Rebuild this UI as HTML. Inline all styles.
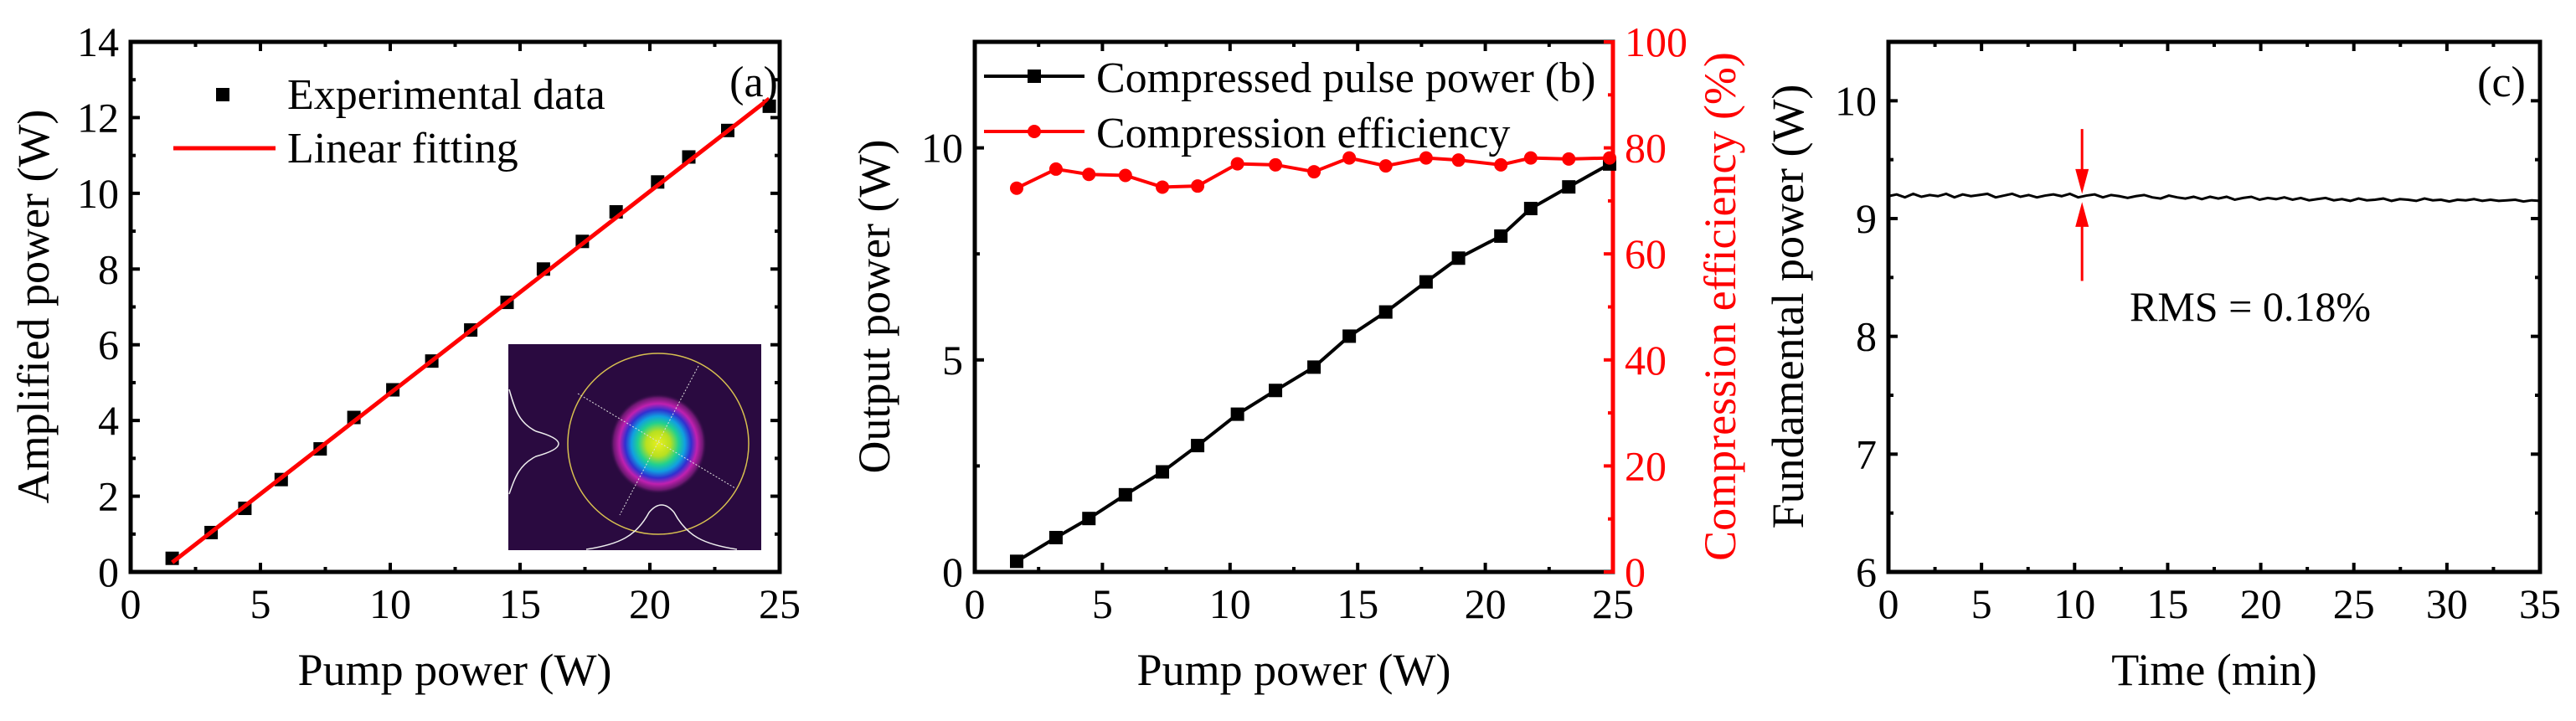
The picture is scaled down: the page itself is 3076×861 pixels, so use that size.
<!DOCTYPE html>
<html><head><meta charset="utf-8"><style>
html,body{margin:0;padding:0;background:#fff;}
svg{display:block;font-family:"Liberation Serif",serif;}
</style></head><body>
<svg id="fig" width="3076" height="861" viewBox="0 0 3076 861" xmlns="http://www.w3.org/2000/svg">
<defs>
<radialGradient id="beam" cx="50%" cy="50%" r="50%">
<stop offset="0" stop-color="#e8f020"/><stop offset="0.25" stop-color="#b8e020"/>
<stop offset="0.42" stop-color="#20d090"/><stop offset="0.55" stop-color="#10a0e0"/>
<stop offset="0.68" stop-color="#3030d0"/><stop offset="0.8" stop-color="#c020b0"/>
<stop offset="0.92" stop-color="#6a1870"/><stop offset="1" stop-color="#2a0a40" stop-opacity="0"/>
</radialGradient>
</defs>
<g id="root"></g>
</svg>
<script>
// Panel (a) data
const aPump = [1.6, 3.1, 4.4, 5.8, 7.3, 8.6, 10.1, 11.6, 13.1, 14.5, 15.9, 17.4, 18.7, 20.3, 21.5, 23.0, 24.6];
const aPower = [0.36, 1.04, 1.68, 2.44, 3.25, 4.08, 4.81, 5.57, 6.39, 7.12, 8.0, 8.73, 9.51, 10.3, 10.96, 11.66, 12.3];
const aFitX = [1.6, 24.6];
const aFitY = [0.25, 12.5];
// Panel (b) data
const bPump = [1.64, 3.18, 4.47, 5.9, 7.35, 8.73, 10.29, 11.78, 13.29, 14.67, 16.1, 17.68, 18.95, 20.61, 21.78, 23.27, 24.87];
const bOutput = [0.25, 0.81, 1.26, 1.82, 2.36, 2.98, 3.72, 4.28, 4.83, 5.56, 6.13, 6.84, 7.40, 7.92, 8.57, 9.08, 9.62];
const bEff = [72.4, 76.0, 75.0, 74.8, 72.6, 72.8, 77.0, 76.8, 75.5, 78.1, 76.6, 78.1, 77.7, 76.8, 78.1, 77.9, 78.1];
// Panel (c) data
const cPower = [9.19,9.205,9.18,9.21,9.185,9.20,9.19,9.21,9.18,9.205,9.19,9.20,9.21,9.18,9.195,9.21,9.185,9.20,9.18,9.195,
 9.205,9.19,9.21,9.18,9.195,9.205,9.18,9.20,9.19,9.175,9.19,9.20,9.18,9.17,9.195,9.18,9.17,9.185,9.165,9.185,
 9.17,9.185,9.16,9.175,9.185,9.16,9.175,9.165,9.18,9.16,9.175,9.155,9.165,9.175,9.155,9.165,9.15,9.17,9.155,9.16,
 9.17,9.15,9.165,9.16,9.15,9.17,9.155,9.16,9.145,9.16,9.155,9.165,9.15,9.16,9.15,9.155,9.16,9.145,9.155,9.15];
const cTimeMax = 35;
const aXTicks = [0,5,10,15,20,25];
const aYTicks = [0,2,4,6,8,10,12,14];
const bYTicks = [0,5,10];
const bY2Ticks = [0,20,40,60,80,100];
const cXTicks = [0,5,10,15,20,25,30,35];
const cYTicks = [6,7,8,9,10];

const NS='http://www.w3.org/2000/svg';
const root=document.getElementById('root');
function mk(tag,attrs,parent,text){const e=document.createElementNS(NS,tag);for(const k in attrs)e.setAttribute(k,attrs[k]);if(text!==undefined)e.textContent=text;(parent||root).appendChild(e);return e;}
function scale(d0,d1,r0,r1){return v=>r0+(v-d0)*(r1-r0)/(d1-d0);}

function axes(g,L,R,T,B,xs,xTicks,xMinor,ys,yTicks,yMinor,rightTicks,topTicks){
  mk('rect',{x:L,y:T,width:R-L,height:B-T,fill:'none',stroke:'#000','stroke-width':5},g);
  xTicks.forEach(v=>{const x=xs(v);
    mk('line',{x1:x,x2:x,y1:B,y2:B-11,stroke:'#000','stroke-width':4},g);
    if(topTicks) mk('line',{x1:x,x2:x,y1:T,y2:T+11,stroke:'#000','stroke-width':4},g);
    const t=mk('text',{x:x,y:B+55,'font-size':50,'text-anchor':'middle'},g,String(v));
    
    });
  xMinor.forEach(v=>{const x=xs(v);
    mk('line',{x1:x,x2:x,y1:B,y2:B-6,stroke:'#000','stroke-width':4},g);
    if(topTicks) mk('line',{x1:x,x2:x,y1:T,y2:T+6,stroke:'#000','stroke-width':4},g);});
  yTicks.forEach(v=>{const y=ys(v);
    mk('line',{x1:L,x2:L+11,y1:y,y2:y,stroke:'#000','stroke-width':4},g);
    if(rightTicks) mk('line',{x1:R,x2:R-11,y1:y,y2:y,stroke:'#000','stroke-width':4},g);
    const t=mk('text',{x:L-14,y:y+17,'font-size':50,'text-anchor':'end'},g,String(v));
    
    });
  yMinor.forEach(v=>{const y=ys(v);
    mk('line',{x1:L,x2:L+6,y1:y,y2:y,stroke:'#000','stroke-width':4},g);
    if(rightTicks) mk('line',{x1:R,x2:R-6,y1:y,y2:y,stroke:'#000','stroke-width':4},g);});
}
function ytitle(g,x,y,txt,color,name){const t=mk('text',{x:x,y:y,'font-size':54,'text-anchor':'middle',fill:color,transform:`rotate(-90 ${x} ${y})`},g,txt);
  }
function xtitle(g,x,y,txt){const t=mk('text',{x:x,y:y,'font-size':54,'text-anchor':'middle'},g,txt);
  }

// ---------- Panel A ----------
{const L=156,R=931,T=50,B=683;
 const g=mk('g',{});
 const xs=scale(0,25,L,R), ys=scale(0,14,B,T);
 const ins=mk('g',{},g);
 mk('rect',{x:607,y:411,width:302,height:246,fill:'#2a0a40'},ins);
 mk('ellipse',{cx:786,cy:530,rx:58,ry:60,fill:'url(#beam)'},ins);
 mk('ellipse',{cx:786,cy:530,rx:108,ry:108,fill:'none',stroke:'#d8c050','stroke-width':1.5},ins);
 mk('line',{x1:690,y1:470,x2:878,y2:583,stroke:'#ddd','stroke-width':1,'stroke-dasharray':'2 2'},ins);
 mk('line',{x1:834,y1:437,x2:740,y2:615,stroke:'#ddd','stroke-width':1,'stroke-dasharray':'2 2'},ins);
 mk('path',{d:'M608,465 C615,490 620,505 640,515 C676,525 676,535 640,545 C620,555 615,570 608,590',fill:'none',stroke:'#eee','stroke-width':1.5},ins);
 mk('path',{d:'M700,656 C740,650 760,640 775,612 C785,600 795,600 805,612 C820,640 840,650 880,656',fill:'none',stroke:'#eee','stroke-width':1.5},ins);
 axes(g,L,R,T,B,xs,aXTicks,[2.5,7.5,12.5,17.5,22.5],ys,aYTicks,[1,3,5,7,9,11,13],true,true);
 aPump.forEach((x,i)=>{const r=mk('rect',{x:xs(x)-8,y:ys(aPower[i])-8,width:16,height:16,fill:'#000'},g);
   });
 const fit=mk('line',{x1:xs(aFitX[0]),y1:ys(aFitY[0]),x2:xs(aFitX[1]),y2:ys(aFitY[1]),stroke:'#ff0000','stroke-width':5},g);
 
 const lg=mk('g',{},g);
 mk('rect',{x:258,y:105,width:16,height:16,fill:'#000'},lg);
 mk('text',{x:343,y:130,'font-size':52},lg,'Experimental data');
 mk('line',{x1:207,x2:329,y1:177,y2:177,stroke:'#ff0000','stroke-width':5},lg);
 mk('text',{x:343,y:194,'font-size':52},lg,'Linear fitting');
 const pl=mk('text',{x:900,y:115,'font-size':52,'text-anchor':'middle'},g,'(a)');
 
 ytitle(g,58,366,'Amplified power (W)','#000','y-axis-title');
 xtitle(g,543,818,'Pump power (W)');
}
// ---------- Panel B ----------
{const L=1164,R=1926,T=50,B=683;
 const g=mk('g',{});
 const xs=scale(0,25,L,R), ys=scale(0,12.5,B,T), ys2=scale(0,100,B,T);
 axes(g,L,R,T,B,xs,aXTicks,[2.5,7.5,12.5,17.5,22.5],ys,bYTicks,[2.5,7.5,12.5],false,true);
 mk('line',{x1:R,x2:R,y1:T-2,y2:B+2,stroke:'#ff0000','stroke-width':5},g);
 bY2Ticks.forEach(v=>{const y=ys2(v);mk('line',{x1:R,x2:R-11,y1:y,y2:y,stroke:'#ff0000','stroke-width':4},g);
   const t=mk('text',{x:R+14,y:y+17,'font-size':50,fill:'#ff0000'},g,String(v));
   });
 [10,30,50,70,90].forEach(v=>{const y=ys2(v);mk('line',{x1:R,x2:R-6,y1:y,y2:y,stroke:'#ff0000','stroke-width':4},g);});
 const pb=mk('polyline',{points:bPump.map((x,i)=>xs(x)+','+ys(bOutput[i])).join(' '),fill:'none',stroke:'#000','stroke-width':4},g);
 
 bPump.forEach((x,i)=>{const r=mk('rect',{x:xs(x)-8,y:ys(bOutput[i])-8,width:16,height:16,fill:'#000'},g);
   });
 const pe=mk('polyline',{points:bPump.map((x,i)=>xs(x)+','+ys2(bEff[i])).join(' '),fill:'none',stroke:'#ff0000','stroke-width':4},g);
 
 bPump.forEach((x,i)=>{const c=mk('circle',{cx:xs(x),cy:ys2(bEff[i]),r:8,fill:'#ff0000'},g);
   });
 const lg=mk('g',{},g);
 mk('line',{x1:1175,x2:1295,y1:91,y2:91,stroke:'#000','stroke-width':4},lg);
 mk('rect',{x:1227,y:83,width:16,height:16,fill:'#000'},lg);
 mk('text',{x:1309,y:110,'font-size':52},lg,'Compressed pulse power (b)');
 mk('line',{x1:1175,x2:1295,y1:157,y2:157,stroke:'#ff0000','stroke-width':4},lg);
 mk('circle',{cx:1235,cy:157,r:8,fill:'#ff0000'},lg);
 mk('text',{x:1309,y:176,'font-size':52},lg,'Compression efficiency');
 ytitle(g,1062,366,'Output power (W)','#000','y-axis-title');
 ytitle(g,2072,366,'Compression efficiency (%)','#ff0000','y2-axis-title');
 xtitle(g,1545,818,'Pump power (W)');
}
// ---------- Panel C ----------
{const L=2255,R=3033,T=50,B=683;
 const g=mk('g',{});
 const xs=scale(0,cTimeMax,L,R), ys=scale(6,10.5,B,T);
 axes(g,L,R,T,B,xs,cXTicks,[2.5,7.5,12.5,17.5,22.5,27.5,32.5],ys,cYTicks,[6.5,7.5,8.5,9.5,10.5],true,true);
 const n=cPower.length;
 const pc=mk('polyline',{points:cPower.map((v,i)=>xs(i*cTimeMax/(n-1))+','+ys(v)).join(' '),fill:'none',stroke:'#000','stroke-width':3},g);
 
 const ax=xs(10.4);
 const a1=mk('g',{},g);
 mk('line',{x1:ax,x2:ax,y1:ys(9.76),y2:ys(9.4),stroke:'#ff0000','stroke-width':3},a1);
 mk('polygon',{points:`${ax-8},${ys(9.42)} ${ax+8},${ys(9.42)} ${ax},${ys(9.21)}`,fill:'#ff0000'},a1);
 const a2=mk('g',{},g);
 mk('line',{x1:ax,x2:ax,y1:ys(8.47),y2:ys(8.95),stroke:'#ff0000','stroke-width':3},a2);
 mk('polygon',{points:`${ax-8},${ys(8.93)} ${ax+8},${ys(8.93)} ${ax},${ys(9.14)}`,fill:'#ff0000'},a2);
 const rt=mk('text',{x:2543,y:383,'font-size':50},g,'RMS = 0.18%');
 
 const pl=mk('text',{x:2987,y:115,'font-size':52,'text-anchor':'middle'},g,'(c)');
 
 ytitle(g,2153,366,'Fundamental power (W)','#000','y-axis-title');
 xtitle(g,2644,818,'Time (min)');
}
</script>
</body></html>
